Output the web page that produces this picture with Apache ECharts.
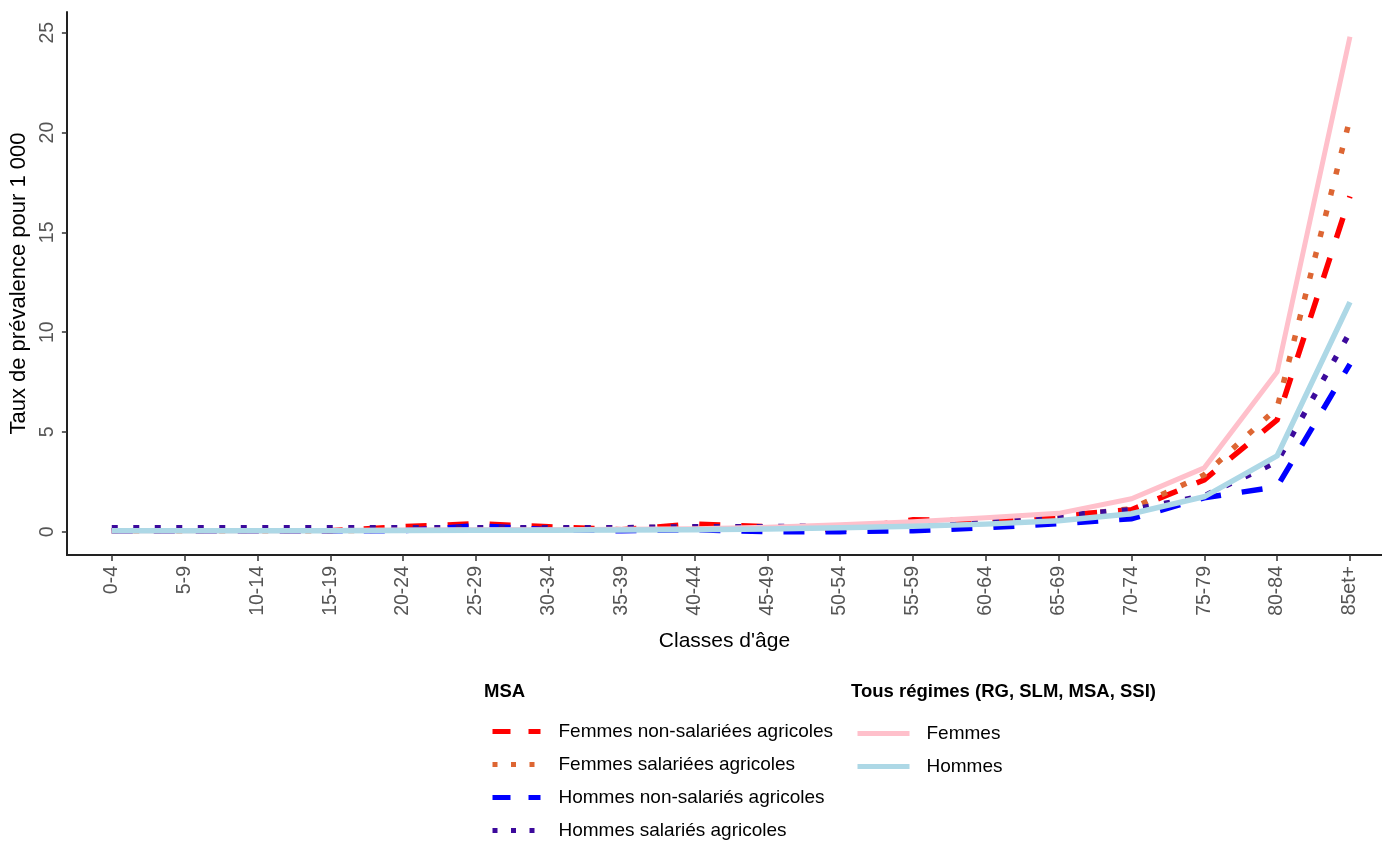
<!DOCTYPE html>
<html>
<head>
<meta charset="utf-8">
<script src="https://cdn.jsdelivr.net/npm/echarts@6/dist/echarts.min.js"></script>
<style>
html,body{margin:0;padding:0;background:#fff;}
#chart{width:1382px;height:842px;}
</style>
</head>
<body>
<div id="chart"></div>
<script>
const categories = ['0-4','5-9','10-14','15-19','20-24','25-29','30-34','35-39','40-44','45-49','50-54','55-59','60-64','65-69','70-74','75-79','80-84','85et+'];
const femmesNonSal = [0.05,0.05,0.05,0.05,0.25,0.4,0.25,0.1,0.38,0.25,0.08,0.6,0.55,0.8,1.1,2.6,5.6,16.8];
const femmesSal    = [0.05,0.05,0.05,0.05,0.08,0.1,0.15,0.2,0.22,0.2,0.25,0.35,0.5,0.75,1.15,2.85,6.2,20.7];
const hommesNonSal = [0.05,0.05,0.05,0.05,0.05,0.3,0.1,0.05,0.1,0.0,0.0,0.05,0.2,0.4,0.65,1.7,2.25,8.4];
const hommesSal    = [0.2,0.2,0.2,0.2,0.2,0.2,0.2,0.2,0.25,0.25,0.3,0.35,0.55,0.8,1.1,1.8,3.5,10.0];
const femmesTous   = [0.05,0.05,0.05,0.06,0.08,0.1,0.1,0.12,0.15,0.22,0.35,0.5,0.7,0.92,1.65,3.2,8.0,24.8];
const hommesTous   = [0.05,0.05,0.05,0.05,0.06,0.07,0.07,0.08,0.1,0.13,0.2,0.27,0.38,0.55,0.9,1.75,3.8,11.5];
const yTicks = [0,5,10,15,20,25];

const FONT = '"Liberation Sans", Arial, sans-serif';
const idx = categories.map((c,i)=>i);
const pairs = arr => arr.map((v,i)=>[i,v]);

const chart = echarts.init(document.getElementById('chart'), null, {renderer:'canvas'});

function lineSeries(name, data, color, type, width, z){
  return {
    name, type:'line', data:pairs(data), symbol:'none', showSymbol:false, z,
    lineStyle:{color, width, type, cap:'butt', join:'miter'},
    itemStyle:{color}, animation:false, emphasis:{disabled:true}
  };
}

const dashed = [21,21];
const dotted = [6,15.5];
const hiddenSym = {opacity:0};

chart.setOption({
  animation:false,
  backgroundColor:'#fff',
  title:[
    {text:'MSA', left:479, top:677, textStyle:{fontFamily:FONT, fontSize:18.5, fontWeight:'bold', color:'#000'}},
    {text:'Tous régimes (RG, SLM, MSA, SSI)', left:846, top:677, textStyle:{fontFamily:FONT, fontSize:18.5, fontWeight:'bold', color:'#000'}}
  ],
  grid:{left:64, right:0, top:12, bottom:287, containLabel:false},
  xAxis:{
    type:'value', min:-0.616, max:17.44,
    name:'Classes d\'âge', nameLocation:'middle', nameGap:76,
    nameTextStyle:{fontFamily:FONT, fontSize:21, color:'#000'},
    axisLine:{show:true, onZero:false, lineStyle:{color:'#222', width:2}},
    axisTick:{show:true, length:6, lineStyle:{color:'#333', width:1.5}, customValues:idx},
    axisLabel:{rotate:90, margin:11, fontFamily:FONT, fontSize:19.5, color:'#555', customValues:idx,
      formatter:v=>categories[Math.round(v)]},
    splitLine:{show:false}
  },
  yAxis:{
    type:'value', min:-1.167, max:26.04,
    name:'Taux de prévalence pour 1 000', nameLocation:'middle', nameGap:36,
    nameTextStyle:{fontFamily:FONT, fontSize:22, color:'#000'},
    axisLine:{show:true, onZero:false, lineStyle:{color:'#222', width:2}},
    axisTick:{show:true, length:5, lineStyle:{color:'#333', width:1.5}, customValues:yTicks},
    axisLabel:{rotate:90, margin:9, fontFamily:FONT, fontSize:19.5, color:'#555', customValues:yTicks},
    splitLine:{show:false}
  },
  legend:[
    {
      orient:'vertical', left:490, top:722, height:140, padding:0, itemWidth:48, itemHeight:14, itemGap:14,
      selectedMode:false, itemStyle:hiddenSym,
      textStyle:{fontFamily:FONT, fontSize:19, color:'#000', padding:[0,0,0,13]},
      data:[
        {name:'Femmes non-salariées agricoles', itemStyle:hiddenSym, lineStyle:{type:[18,18], width:5}},
        {name:'Femmes salariées agricoles', itemStyle:hiddenSym, lineStyle:{type:[5,13.5], width:5}},
        {name:'Hommes non-salariés agricoles', itemStyle:hiddenSym, lineStyle:{type:[18,18], width:5}},
        {name:'Hommes salariés agricoles', itemStyle:hiddenSym, lineStyle:{type:[5,13.5], width:5}}
      ]
    },
    {
      orient:'vertical', left:855, top:724, height:100, padding:0, itemWidth:52, itemHeight:14, itemGap:14,
      selectedMode:false, itemStyle:hiddenSym,
      textStyle:{fontFamily:FONT, fontSize:19, color:'#000', padding:[0,0,0,12]},
      data:[
        {name:'Femmes', itemStyle:hiddenSym, lineStyle:{width:5}},
        {name:'Hommes', itemStyle:hiddenSym, lineStyle:{width:5}}
      ]
    }
  ],
  series:[
    lineSeries('Femmes non-salariées agricoles', femmesNonSal, '#FF0000', dashed, 5.5, 1),
    lineSeries('Femmes salariées agricoles', femmesSal, '#DD6633', dotted, 5.5, 2),
    lineSeries('Hommes non-salariés agricoles', hommesNonSal, '#0000FF', dashed, 5.5, 3),
    lineSeries('Hommes salariés agricoles', hommesSal, '#3C0A9C', dotted, 5.5, 4),
    lineSeries('Femmes', femmesTous, '#FFC0CB', 'solid', 5, 5),
    lineSeries('Hommes', hommesTous, '#ADD8E6', 'solid', 5.5, 6)
  ]
});
</script>
</body>
</html>
